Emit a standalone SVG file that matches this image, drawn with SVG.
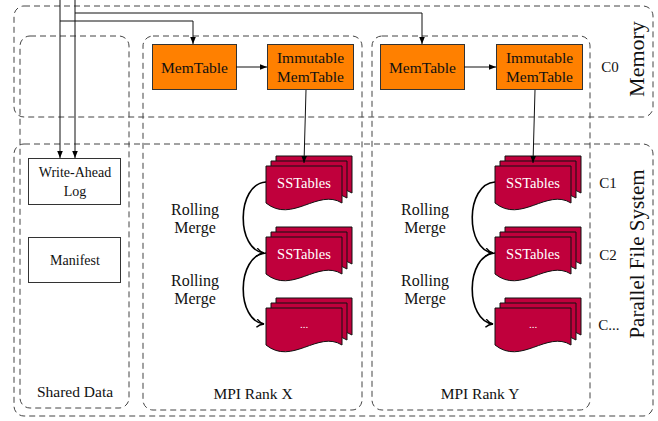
<svg xmlns="http://www.w3.org/2000/svg" width="658" height="421" viewBox="0 0 658 421">
<style>
.dash{fill:none;stroke:#444;stroke-width:1;stroke-dasharray:6 4}
.mem{fill:#FF8000;stroke:#333;stroke-width:1}
.box{fill:#fff;stroke:#333;stroke-width:1}
.doc{fill:#C0003C;stroke:#111;stroke-width:1}
.t{font-family:'Liberation Serif','Times New Roman',Tinos,'DejaVu Serif',serif;fill:#111;text-anchor:middle}
.w{font-family:'Liberation Serif','Times New Roman',Tinos,'DejaVu Serif',serif;fill:#fff;text-anchor:middle}
.ln{fill:none;stroke:#111;stroke-width:1}
.cv{fill:none;stroke:#000;stroke-width:1.6}
</style>
<defs>
<marker id="ah" viewBox="0 0 10 10" refX="10" refY="5" markerWidth="7" markerHeight="7" markerUnits="userSpaceOnUse" orient="auto"><path d="M0,1 L10,5 L0,9 Z" fill="#000"/></marker>
<marker id="oh" viewBox="0 0 10 10" refX="9" refY="5" markerWidth="9" markerHeight="9" markerUnits="userSpaceOnUse" orient="auto"><path d="M1,0.5 Q4,4 9,5 Q4,6 1,9.5" fill="none" stroke="#000" stroke-width="1.6"/></marker>
<path id="docp" d="M0,0 H76 V37 C52,22 26,58 0,37 Z"/>
<g id="stack">
<use href="#docp" x="10" y="0" class="doc"/>
<use href="#docp" x="5" y="5" class="doc"/>
<use href="#docp" x="0" y="10" class="doc"/>
</g>
</defs>

<g id="regions">
<rect class="dash" x="14" y="6" width="639" height="111" rx="10"/>
<rect class="dash" x="14" y="144" width="639" height="272" rx="10"/>
<rect class="dash" x="20" y="36" width="109" height="372" rx="10"/>
<rect class="dash" x="143" y="36" width="219" height="374" rx="10"/>
<rect class="dash" x="372" y="36" width="218" height="374" rx="10"/>
</g>

<g id="labels">
<text class="t" x="637" y="59" font-size="22" transform="rotate(-90 637 59)" dy="7">Memory</text>
<text class="t" x="637" y="254" font-size="21" transform="rotate(-90 637 254)" dy="7">Parallel File System</text>
<text class="t" x="610" y="72" font-size="15">C0</text>
<text class="t" x="608" y="188" font-size="15">C1</text>
<text class="t" x="608" y="260" font-size="15">C2</text>
<text class="t" x="609" y="330" font-size="15">C...</text>
<text class="t" x="75" y="397" font-size="15.5">Shared Data</text>
<text class="t" x="253" y="399" font-size="15.5">MPI Rank X</text>
<text class="t" x="480" y="399" font-size="15.5">MPI Rank Y</text>
<text class="t" x="195" y="215" font-size="16">Rolling</text>
<text class="t" x="195" y="233" font-size="16">Merge</text>
<text class="t" x="195" y="286" font-size="16">Rolling</text>
<text class="t" x="195" y="304" font-size="16">Merge</text>
<text class="t" x="425" y="215" font-size="16">Rolling</text>
<text class="t" x="425" y="233" font-size="16">Merge</text>
<text class="t" x="425" y="286" font-size="16">Rolling</text>
<text class="t" x="425" y="304" font-size="16">Merge</text>
</g>

<g id="wal"><rect class="box" x="28.5" y="158.5" width="92" height="46"/>
<text class="t" x="75" y="177" font-size="14">Write-Ahead</text>
<text class="t" x="75" y="196" font-size="14">Log</text></g>
<g id="manifest"><rect class="box" x="28.5" y="237.5" width="92" height="45"/>
<text class="t" x="75" y="265" font-size="14">Manifest</text></g>

<g id="memX"><rect class="mem" x="152.5" y="44.5" width="84" height="45"/>
<text class="t" x="194.5" y="73" font-size="15.5">MemTable</text></g>
<g id="immX"><rect class="mem" x="267.5" y="44.5" width="86" height="45"/>
<text class="t" x="310.5" y="63" font-size="15.5">Immutable</text>
<text class="t" x="310.5" y="82" font-size="15.5">MemTable</text></g>
<g id="memY"><rect class="mem" x="380.5" y="44.5" width="84" height="45"/>
<text class="t" x="422.5" y="73" font-size="15.5">MemTable</text></g>
<g id="immY"><rect class="mem" x="496.5" y="44.5" width="86" height="45"/>
<text class="t" x="539.5" y="63" font-size="15.5">Immutable</text>
<text class="t" x="539.5" y="82" font-size="15.5">MemTable</text></g>

<g id="sstX1"><use href="#stack" x="266" y="156"/><text class="w" x="304" y="188" font-size="14.5">SSTables</text></g>
<g id="sstX2"><use href="#stack" x="266" y="227"/><text class="w" x="304" y="259" font-size="14.5">SSTables</text></g>
<g id="sstX3"><use href="#stack" x="266" y="298"/><text class="w" x="304" y="328" font-size="11">...</text></g>
<g id="sstY1"><use href="#stack" x="495" y="156"/><text class="w" x="533" y="188" font-size="14.5">SSTables</text></g>
<g id="sstY2"><use href="#stack" x="495" y="227"/><text class="w" x="533" y="259" font-size="14.5">SSTables</text></g>
<g id="sstY3"><use href="#stack" x="495" y="298"/><text class="w" x="533" y="328" font-size="11">...</text></g>

<g id="connectors">
<path class="ln" d="M60,0 V158" marker-end="url(#ah)"/>
<path class="ln" d="M75,0 V158" marker-end="url(#ah)"/>
<path class="ln" d="M60,21 H193 V44" marker-end="url(#ah)"/>
<path class="ln" d="M75,13 H422 V44" marker-end="url(#ah)"/>
<path class="ln" d="M236,67 H267" marker-end="url(#ah)"/>
<path class="ln" d="M464,67 H496" marker-end="url(#ah)"/>
<path class="ln" d="M306,90 L304,163" marker-end="url(#ah)"/>
<path class="ln" d="M535,90 L533,163" marker-end="url(#ah)"/>
<path class="cv" d="M266,182 C236,184 236,250 264,253" marker-end="url(#oh)"/>
<path class="cv" d="M266,253 C236,255 236,321 264,324" marker-end="url(#oh)"/>
<path class="cv" d="M495,182 C465,184 465,250 493,253" marker-end="url(#oh)"/>
<path class="cv" d="M495,253 C465,255 465,321 493,324" marker-end="url(#oh)"/>
</g>
</svg>
